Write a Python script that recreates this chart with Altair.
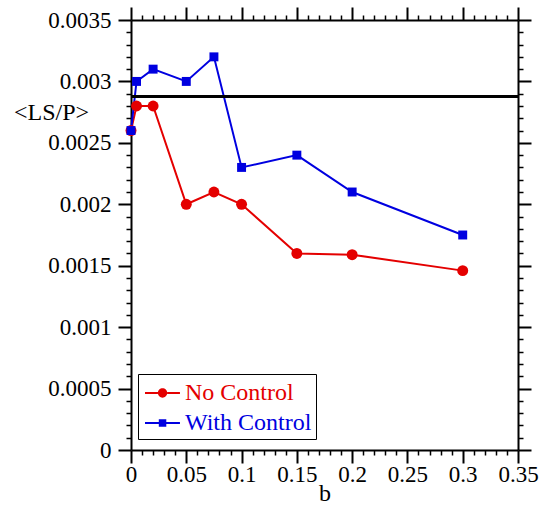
import altair as alt
import pandas as pd

# ---- data ----
B = [0, 0.005, 0.02, 0.05, 0.075, 0.1, 0.15, 0.2, 0.3]
NO_CONTROL = [0.0026, 0.0028, 0.0028, 0.0020, 0.0021, 0.0020, 0.0016, 0.00159, 0.00146]
WITH_CONTROL = [0.0026, 0.0030, 0.0031, 0.0030, 0.0032, 0.0023, 0.0024, 0.0021, 0.00175]
SERIES = ["No Control", "With Control"]
COLORS = ["#e40000", "#0000e0"]
REF_LEVEL = 0.00288

X_DOMAIN = [0, 0.35]
Y_DOMAIN = [0, 0.0035]
X_TICKS = [round(i * 0.01, 2) for i in range(36)]      # minor every 0.01, labelled every 0.05
Y_TICKS = [round(i * 0.0001, 4) for i in range(36)]    # minor every 0.0001, labelled every 0.0005

rows = []
for name, vals in zip(SERIES, [NO_CONTROL, WITH_CONTROL]):
    for b, v in zip(B, vals):
        rows.append({"b": b, "value": v, "series": name})
df = pd.DataFrame(rows)

FONT = "Liberation Serif"
X_MAJOR = "abs(datum.value*20 - round(datum.value*20)) < 1e-6"
Y_MAJOR = "abs(datum.value*2000 - round(datum.value*2000)) < 1e-6"
COLOR_EXPR = f"datum.value == '{SERIES[0]}' ? '{COLORS[0]}' : '{COLORS[1]}'"


def make_axis(orient, ticks, major, labels=True, **kw):
    args = dict(
        orient=orient,
        values=ticks,
        grid=False,
        domainColor="black",
        domainWidth=2,
        tickColor="black",
        tickSize={"condition": {"test": major, "value": 13}, "value": 5},
        tickWidth={"condition": {"test": major, "value": 2}, "value": 1.5},
        labels=labels,
        labelFont=FONT,
        labelFontSize=23,
        labelColor="black",
        labelFlush=False,
        labelOverlap=False,
        titleFont=FONT,
        titleFontSize=24,
        titleFontWeight="normal",
        titleColor="black",
    )
    if labels:
        args["labelExpr"] = f"({major}) ? format(datum.value, '~g') : ''"
    args.update(kw)
    return alt.Axis(**args)


xs = alt.Scale(domain=X_DOMAIN, nice=False, zero=False)
ys = alt.Scale(domain=Y_DOMAIN, nice=False, zero=False)
cs = alt.Scale(domain=SERIES, range=COLORS)

base = alt.Chart(df)

lines = base.mark_line(strokeWidth=2).encode(
    x=alt.X("b:Q", scale=xs,
            axis=make_axis("bottom", X_TICKS, X_MAJOR, labelPadding=0,
                           title="b", titleY=50, titleBaseline="alphabetic")),
    y=alt.Y("value:Q", scale=ys,
            axis=make_axis("left", Y_TICKS, Y_MAJOR, labelPadding=7,
                           title="<LS/P>", titleAngle=0, titleX=-80, titleY=92,
                           titleAlign="center", titleBaseline="middle")),
    color=alt.Color("series:N", scale=cs, legend=None),
)

points = base.mark_point(filled=True, opacity=1).encode(
    x=alt.X("b:Q", scale=xs, axis=None),
    y=alt.Y("value:Q", scale=ys, axis=None),
    color=alt.Color("series:N", scale=cs, legend=None),
    shape=alt.Shape("series:N", scale=alt.Scale(domain=SERIES, range=["circle", "square"]),
                    legend=None),
    size=alt.Size("series:N", scale=alt.Scale(domain=SERIES, range=[120, 80]), legend=None),
)

ref = base.mark_rule(color="black", strokeWidth=2).encode(
    y=alt.datum(REF_LEVEL, scale=ys, axis=None)
)

# legend symbols: short line with the marker in the middle
CIRCLE_SYM = ("M-0.8,-0.067H0.06V0.067H-0.8Z M0.68,-0.067H1.53V0.067H0.68Z "
              "M0.06,0A0.31,0.31 0 1,1 0.68,0A0.31,0.31 0 1,1 0.06,0Z")
SQUARE_SYM = ("M-0.8,-0.067H0.12V0.067H-0.8Z M0.62,-0.067H1.53V0.067H0.62Z "
              "M0.12,-0.25H0.62V0.25H0.12Z")

legend = alt.Legend(
    title=None, orient="none", legendX=7, legendY=354,
    labelFont=FONT, labelFontSize=24, labelLimit=400,
    labelColor={"expr": COLOR_EXPR},
    symbolFillColor={"expr": COLOR_EXPR},
    labelOffset=13, symbolSize=900, rowPadding=3, padding=4,
    strokeColor="black", fillColor="white", symbolOpacity=1, symbolStrokeWidth=0,
)

frame = base.transform_filter("false").mark_point(filled=True).encode(
    x=alt.X("b:Q", scale=xs, axis=make_axis("top", X_TICKS, X_MAJOR, labels=False, title=None)),
    y=alt.Y("value:Q", scale=ys, axis=make_axis("right", Y_TICKS, Y_MAJOR, labels=False, title=None)),
    color=alt.Color("series:N", scale=cs, legend=legend),
    shape=alt.Shape("series:N", scale=alt.Scale(domain=SERIES, range=[CIRCLE_SYM, SQUARE_SYM]),
                    legend=legend),
)

chart = (
    alt.layer(lines, points, ref, frame)
    .resolve_axis(x="independent", y="independent")
    .resolve_scale(shape="independent")
    .properties(width=387, height=430,
                autosize=alt.AutoSizeParams(type="none"),
                padding={"left": 131, "top": 20, "right": 33, "bottom": 56})
    .configure(font=FONT)
    .configure_view(stroke=None)
)

chart.save("out.html", embed_options={"renderer": "svg", "actions": False})
